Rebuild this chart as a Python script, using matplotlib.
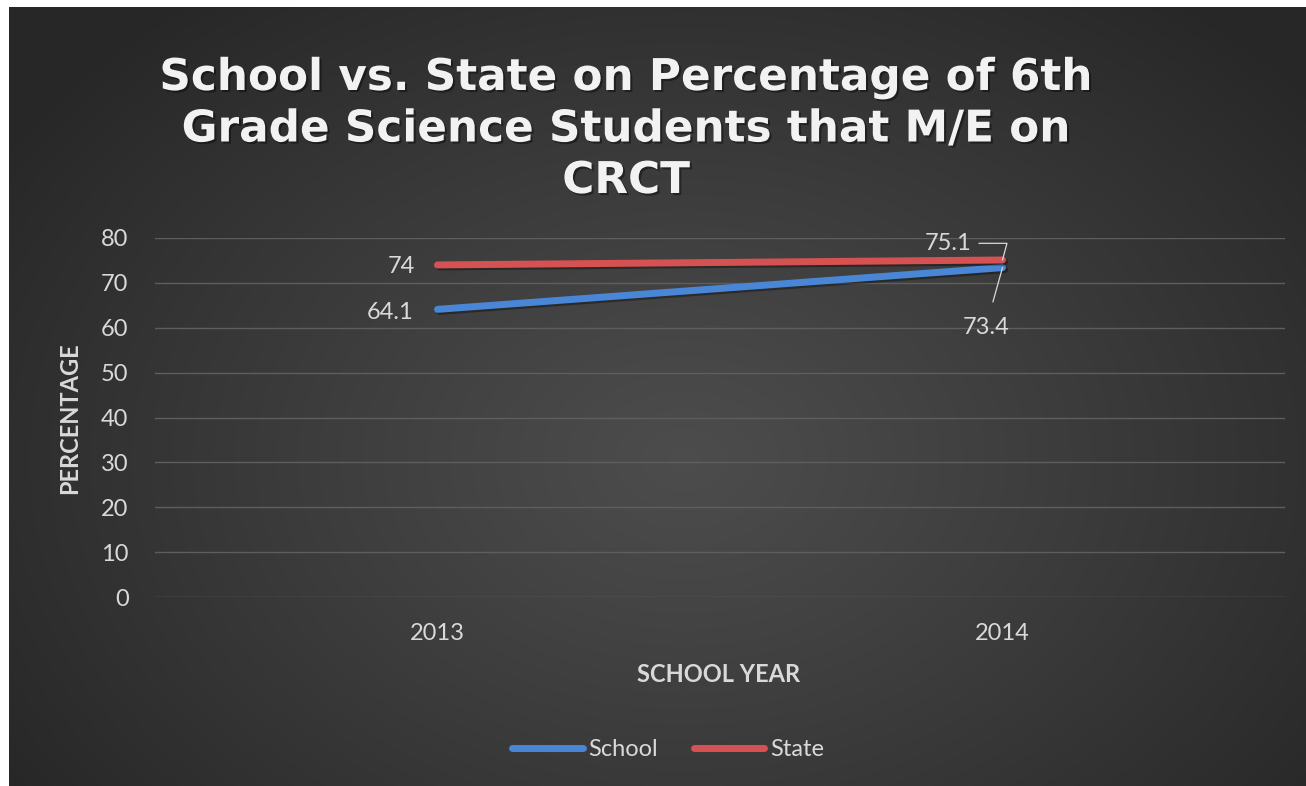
import numpy as np
import matplotlib
matplotlib.use("Agg")
import matplotlib.pyplot as plt
import matplotlib.patheffects as pe
from matplotlib.lines import Line2D

# ---- data ----
years = ["2013", "2014"]
school = [64.1, 73.4]
state = [74.0, 75.1]
yticks = [0, 10, 20, 30, 40, 50, 60, 70, 80]
title = "School vs. State on Percentage of 6th\nGrade Science Students that M/E on\nCRCT"

W, H = 1306, 786
fig = plt.figure(figsize=(W / 100, H / 100), dpi=100, facecolor="white")
FONT = ["Lato", "Open Sans", "DejaVu Sans"]
TXT = "#d9d9d9"

# background radial gradient
bg = fig.add_axes([9 / W, 0, 1 - 9 / W, 1 - 7 / H])
bg.set_axis_off()
ny, nx = 400, 660
yy, xx = np.mgrid[0:ny, 0:nx]
cx, cy = nx * 0.52, ny * 0.58
d = np.sqrt(((xx - cx) / (nx * 0.62)) ** 2 + ((yy - cy) / (ny * 0.75)) ** 2)
d = np.clip(d, 0, 1)
inner, outer = 0.30, 0.155
val = inner + (outer - inner) * d ** 1.1
img = np.dstack([val, val, val])
bg.imshow(img, aspect="auto", extent=[0, 1, 0, 1], interpolation="bilinear")
bg.set_xlim(0, 1)
bg.set_ylim(0, 1)

# main axes
x = np.arange(len(years))
ax = fig.add_axes([155 / W, 1 - 597 / H, (1285 - 155) / W, (597 - 238) / H])
ax.patch.set_alpha(0)
for s in ax.spines.values():
    s.set_visible(False)
ax.set_xlim(-0.5, len(years) - 0.5)
ax.set_ylim(0, 80)
ax.set_yticks(yticks)
ax.set_xticks(x)
ax.set_xticklabels(years)
ax.yaxis.grid(True, color="#5e5e5e", linewidth=1.0)
ax.set_axisbelow(True)
ax.tick_params(length=0)
ax.tick_params(axis="y", pad=19, labelsize=17, labelcolor=TXT)
ax.tick_params(axis="x", pad=19, labelsize=17, labelcolor=TXT)
for lab in ax.get_yticklabels() + ax.get_xticklabels():
    lab.set_family(FONT)

shadow = [pe.SimpleLineShadow(offset=(1.5, -1.5), shadow_color="black", alpha=0.35), pe.Normal()]
ax.plot(x, school, color="#4a86d6", linewidth=5.0, solid_capstyle="round",
        path_effects=shadow, zorder=3)
ax.plot(x, state, color="#d65252", linewidth=5.0, solid_capstyle="round",
        path_effects=shadow, zorder=3)

lab_kw = dict(fontsize=17, color=TXT, family=FONT)
ax.annotate(f"{state[0]:g}", (x[0], state[0]), xytext=(-16, -1), textcoords="offset points",
            ha="right", va="center", **lab_kw)
ax.annotate(f"{school[0]:g}", (x[0], school[0]), xytext=(-17, -2), textcoords="offset points",
            ha="right", va="center", **lab_kw)
ax.annotate(f"{state[1]:g}", (x[1], state[1]), xytext=(-22, 12), textcoords="offset points",
            ha="right", va="center",
            arrowprops=dict(arrowstyle="-", color=TXT, lw=0.9,
                            connectionstyle="angle,angleA=0,angleB=75,rad=0",
                            shrinkA=3, shrinkB=0), **lab_kw)
ax.annotate(f"{school[1]:g}", (x[1], school[1]), xytext=(-12, -43), textcoords="offset points",
            ha="center", va="center",
            arrowprops=dict(arrowstyle="-", color=TXT, lw=0.9,
                            shrinkA=9, shrinkB=0), **lab_kw)

# axis titles
fig.text(719 / W, 1 - 674 / H, "SCHOOL YEAR", ha="center", va="center", fontsize=17,
         fontweight="bold", color=TXT, family=FONT)
fig.text(70 / W, 1 - 418 / H, "PERCENTAGE", ha="center", va="center", rotation=90,
         fontsize=17, fontweight="bold", color=TXT, family=FONT)

# title
fig.text(626 / W, 1 - 129 / H, title, ha="center", va="center", fontsize=31.5,
         fontweight="bold", color="#f2f2f2", linespacing=1.25,
         family=["DejaVu Sans"],
         path_effects=[pe.SimplePatchShadow(offset=(1.5, -1.5), shadow_rgbFace="black", alpha=0.4),
                       pe.Normal()])

# legend
handles = [Line2D([], [], color="#4a86d6", lw=5.0, solid_capstyle="round"),
           Line2D([], [], color="#d65252", lw=5.0, solid_capstyle="round")]
leg = fig.legend(handles, ["School", "State"], loc="center", bbox_to_anchor=(668 / W, 1 - 750 / H),
                 ncol=2, frameon=False, handlelength=3.0, handletextpad=0.25, columnspacing=1.5,
                 prop=dict(size=17, family=FONT))
for t in leg.get_texts():
    t.set_color(TXT)

fig.savefig("out.png", dpi=100, facecolor="white")
